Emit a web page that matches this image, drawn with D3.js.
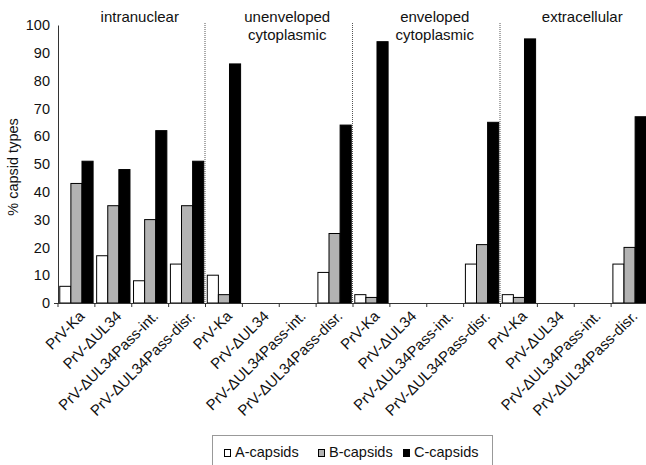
<!DOCTYPE html>
<html><head><meta charset="utf-8">
<script src="https://cdn.jsdelivr.net/npm/d3@7"></script>
<style>body{margin:0;background:#fff}svg{display:block}text{font-family:"Liberation Sans",Arial,sans-serif}</style>
</head><body><svg id="c" width="646" height="465"></svg>
<script>
const groups = ["intranuclear", "unenveloped\ncytoplasmic", "enveloped\ncytoplasmic", "extracellular"];
const strains = ["PrV-Ka", "PrV-\u0394UL34", "PrV-\u0394UL34Pass-int.", "PrV-\u0394UL34Pass-disr."];
const series = ["A-capsids", "B-capsids", "C-capsids"];
const colors = ["#ffffff", "#b3b3b3", "#000000"];
// values per group, per strain: [A, B, C]
const intranuclear = [[6, 43, 51], [17, 35, 48], [8, 30, 62], [14, 35, 51]];
const unenveloped = [[10, 3, 86], [0, 0, 0], [0, 0, 0], [11, 25, 64]];
const enveloped = [[3, 2, 94], [0, 0, 0], [0, 0, 0], [14, 21, 65]];
const extracellular = [[3, 2, 95], [0, 0, 0], [0, 0, 0], [14, 20, 67]];
const yTicks = [0, 10, 20, 30, 40, 50, 60, 70, 80, 90, 100];

const groupVals = [intranuclear, unenveloped, enveloped, extracellular];
const cats = [];
groups.forEach((g, gi) => strains.forEach((s, si) => cats.push({key: gi + "-" + si, g: gi, s: s, vals: groupVals[gi][si]})));

const svg = d3.select("#c");
const x0 = 58, x1 = 648, yTop = 25, yBot = 303;
const x = d3.scaleBand().domain(cats.map(d => d.key)).range([x0, x1]).paddingInner(0).paddingOuter(0);
const y = d3.scaleLinear().domain([0, 100]).range([yBot, yTop]);
const xs = d3.scaleBand().domain(series).range([0, x.bandwidth()]).paddingInner(0).paddingOuter(0.16);

// dividers
for (let gi = 1; gi < groups.length; gi++) {
  const xx = x(gi + "-0") - 0.5;
  svg.append("line").attr("x1", xx).attr("x2", xx).attr("y1", yTop - 2).attr("y2", yBot)
    .attr("stroke", "#555").attr("stroke-width", 1).attr("stroke-dasharray", "1,1");
}

// bars
const cg = svg.append("g").selectAll("g").data(cats).join("g").attr("transform", d => `translate(${x(d.key)},0)`);
cg.selectAll("rect").data(d => d.vals.map((v, i) => ({v, s: series[i], i})).filter(e => e.v > 0)).join("rect")
  .attr("x", e => xs(e.s)).attr("width", xs.bandwidth())
  .attr("y", e => y(e.v)).attr("height", e => y(0) - y(e.v))
  .attr("fill", e => colors[e.i]).attr("stroke", "#000").attr("stroke-width", 1);

// y axis
const ya = svg.append("g").attr("transform", `translate(${x0},0)`)
  .call(d3.axisLeft(y).tickValues(yTicks).tickSize(0).tickPadding(8));
ya.select(".domain").attr("stroke", "#333");
ya.selectAll("text").attr("font-size", 14.5).attr("fill", "#111").attr("font-family", "Liberation Sans, Arial, sans-serif");

// x axis
const xa = svg.append("g").attr("transform", `translate(0,${yBot})`)
  .call(d3.axisBottom(x).tickSize(0).tickFormat(k => cats.find(c => c.key === k).s));
xa.select(".domain").remove();
svg.append("line").attr("x1", x0 - 4).attr("x2", x1).attr("y1", yBot + 0.5).attr("y2", yBot + 0.5).attr("stroke", "#333");
const bounds = d3.range(cats.length + 1).map(i => x0 + i * x.bandwidth());
svg.selectAll(".xt").data(bounds).join("line").attr("class", "xt")
  .attr("x1", d => d).attr("x2", d => d).attr("y1", yBot).attr("y2", yBot + 4).attr("stroke", "#333");
xa.selectAll("text").attr("font-size", 15).attr("fill", "#111").attr("font-family", "Liberation Sans, Arial, sans-serif")
  .attr("text-anchor", "end").attr("dy", null).attr("y", 0)
  .attr("transform", "translate(9,14) rotate(-45)");

// group labels
groups.forEach((g, gi) => {
  const cx = x(gi + "-0") + 2 * x.bandwidth() + 8;
  const lines = g.split("\n");
  const t = svg.append("text").attr("x", cx).attr("y", 22).attr("text-anchor", "middle").attr("font-size", 15).attr("fill", "#111");
  lines.forEach((l, li) => t.append("tspan").attr("x", cx).attr("dy", li === 0 ? 0 : 18).text(l));
});

// y label
svg.append("text").attr("transform", "translate(18,167) rotate(-90)").attr("text-anchor", "middle")
  .attr("font-size", 14.5).attr("fill", "#111").text("% capsid types");

// legend
svg.append("rect").attr("x", 212.5).attr("y", 435.5).attr("width", 280).attr("height", 34)
  .attr("fill", "#fff").attr("stroke", "#999");
const legX = [224, 318, 403];
const lg = svg.selectAll(".lg").data(series).join("g").attr("class", "lg").attr("transform", (d, i) => `translate(${legX[i]},449)`);
lg.append("rect").attr("x", 0.5).attr("y", 0.5).attr("width", 6).attr("height", 7).attr("fill", (d, i) => colors[i]).attr("stroke", "#000");
lg.append("text").attr("x", 11).attr("y", 8).attr("font-size", 14.5).attr("fill", "#111").text(d => d);
</script></body></html>
